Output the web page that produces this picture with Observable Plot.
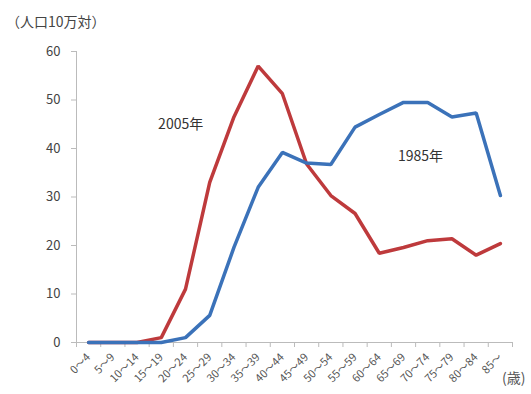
<!DOCTYPE html>
<html>
<head>
<meta charset="utf-8">
<script src="https://cdn.jsdelivr.net/npm/d3@7"></script>
<script src="https://cdn.jsdelivr.net/npm/@observablehq/plot@0.6"></script>
<style>
  html, body { margin: 0; padding: 0; background: #fff; }
  #chart { position: relative; width: 531px; height: 394px; overflow: hidden; }
  .unit { position: absolute; left: 6px; top: 11px; font: 14px "Noto Sans CJK JP", sans-serif; color: #444; }
  .sai { position: absolute; left: 502px; top: 367px; font: 14px "Noto Sans CJK JP", sans-serif; color: #555; white-space: nowrap; }
</style>
</head>
<body>
<div id="chart">
  <div class="unit">（人口10万対）</div>
  <div class="sai">(歳)</div>
</div>
<script>
const categories = ["0～4","5～9","10～14","15～19","20～24","25～29","30～34","35～39","40～44","45～49","50～54","55～59","60～64","65～69","70～74","75～79","80～84","85～"];
const values2005 = [0, 0, 0, 1, 11, 33, 46.5, 57, 51.3, 36.8, 30.3, 26.6, 18.4, 19.6, 21, 21.4, 18, 20.4];
const values1985 = [0, 0, 0, 0, 1, 5.6, 19.6, 32, 39.2, 37, 36.7, 44.4, 47, 49.5, 49.5, 46.5, 47.3, 30.3];
const yTicks = [0, 10, 20, 30, 40, 50, 60];
const seriesNames = ["2005年", "1985年"];
const labelX = [3.8, 13.7];
const labelY = [45, 38.4];

const rows = [];
categories.forEach((c, i) => {
  rows.push({i, v: values2005[i], s: seriesNames[0]});
  rows.push({i, v: values1985[i], s: seriesNames[1]});
});
const labels = seriesNames.map((s, k) => ({s, x: labelX[k], y: labelY[k]}));

const plot = Plot.plot({
  width: 531,
  height: 394,
  marginLeft: 76,
  marginRight: 19,
  marginTop: 51,
  marginBottom: 52,
  style: {fontFamily: "'Noto Sans CJK JP', sans-serif", background: "transparent"},
  x: {type: "linear", domain: [-0.5, categories.length - 0.5]},
  y: {domain: [0, 60]},
  color: {domain: seriesNames, range: ["#be3a3c", "#3b72b9"]},
  marks: [
    Plot.axisY({ticks: yTicks, tickSize: 5, tickPadding: 11, fontSize: 13, color: "#444", stroke: "#bbb", label: null}),
    Plot.axisX({ticks: d3.range(-0.5, categories.length, 1), tickSize: 5, tickFormat: () => "", stroke: "#bbb", label: null}),
    Plot.axisX({ticks: d3.range(categories.length), tickSize: 0, tickPadding: 13, tickRotate: -45, tickFormat: i => categories[i], fontSize: 11, color: "#555", label: null}),
    Plot.ruleX([-0.5], {stroke: "#bbb"}),
    Plot.ruleY([0], {stroke: "#bbb"}),
    Plot.line(rows, {x: "i", y: "v", z: "s", stroke: "s", strokeWidth: 3.5, strokeLinejoin: "miter", strokeLinecap: "round"}),
    Plot.text(labels, {x: "x", y: "y", text: "s", fontSize: 14, fill: "#333"})
  ]
});
document.getElementById("chart").prepend(plot);
plot.style.position = "absolute";
plot.style.left = "0";
plot.style.top = "0";
</script>
</body>
</html>
